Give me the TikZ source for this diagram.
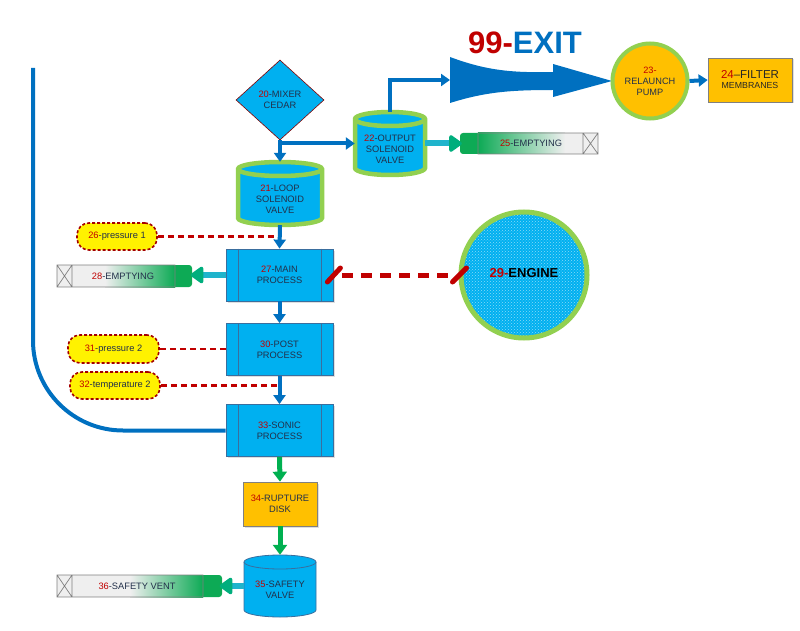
\documentclass[tikz,border=0pt]{standalone}
\usepackage{fontspec}
\setmainfont{Liberation Sans}
\usetikzlibrary{arrows.meta,shapes.geometric,patterns,shadows,calc}
\definecolor{cyanF}{HTML}{00B0F0}
\definecolor{blueA}{HTML}{0070C0}
\definecolor{lgreen}{HTML}{92D050}
\definecolor{gold}{HTML}{FFC000}
\definecolor{numred}{HTML}{C00000}
\definecolor{txt}{HTML}{22304A}
\definecolor{greenA}{HTML}{00B050}
\definecolor{tealL}{HTML}{1FB4CC}
\definecolor{tealH}{HTML}{00AE7D}
\definecolor{pgreen}{HTML}{0DAA55}
\definecolor{pgray}{HTML}{EFEFEF}
\definecolor{edgeG}{HTML}{808080}
\definecolor{procE}{HTML}{3A6E9E}
\definecolor{dkred}{HTML}{A50000}
\newcommand\rn[1]{\textcolor{numred}{#1}}
% cylinder: cx, top, bottom, half width, style
\newcommand\drawcyl[5]{%
  \path[#5] (#1-#4,#2+7) -- (#1-#4,#3-7)
    arc[start angle=180,end angle=360,x radius=#4pt,y radius=7pt]
    -- (#1+#4,#2+7)
    arc[start angle=0,end angle=180,x radius=#4pt,y radius=7pt] -- cycle;
  \path[#5,fill=none] (#1-#4,#2+7)
    arc[start angle=180,end angle=360,x radius=#4pt,y radius=7pt];}
\newcommand\proclines[1]{%
  \draw[procE,line width=0.8pt] ([xshift=13pt]#1.north west) -- ([xshift=13pt]#1.south west)
    ([xshift=-12pt]#1.north east) -- ([xshift=-12pt]#1.south east);}
\begin{document}
\begin{tikzpicture}[x=1pt,y=-1pt,
  font=\fontsize{9.3}{11}\selectfont, text=txt,
  lbl/.style={align=center,inner sep=0pt},
  proc/.style={draw=procE,line width=0.8pt,fill=cyanF,minimum width=107pt,minimum height=52pt,
    align=center,inner sep=0pt,drop shadow={opacity=0.25,shadow xshift=1.5pt,shadow yshift=-1.5pt}},
  goldbox/.style={draw=edgeG,line width=0.7pt,fill=gold,align=center,inner sep=0pt,
    drop shadow={opacity=0.25,shadow xshift=1.5pt,shadow yshift=-1.5pt}},
  sensor/.style={fill=yellow,draw=dkred,line width=1.6pt,dash pattern=on 3pt off 2pt,
    rounded corners=12pt,align=center,inner sep=0pt},
  pipebox/.style={inner sep=0pt,align=center},
  barrow/.style={draw=blueA,line width=4pt,-{Triangle[width=12pt,length=9pt]}},
  garrow/.style={draw=greenA,line width=5pt,-{Triangle[width=14pt,length=10pt]}},
  tarrow/.style={draw=tealL,line width=6pt,-{Triangle[width=19pt,length=14pt,round,color=tealH,fill=tealH]}},
  sdash/.style={draw=numred,line width=2.6pt,dash pattern=on 6pt off 4pt}]
\useasboundingbox (0,0) rectangle (800,631);

% ---- left return line
\coordinate (top) at (33,68);

% ---- title
\node[font=\bfseries\fontsize{31}{31}\selectfont] (t99) at (525,43)
  {\textcolor{numred}{99-}\textcolor{blueA}{EXIT}};

% ---- big exit arrow
\fill[blueA] (450,57) .. controls (485,70) and (510,73) .. (553,72) -- (553,64) -- (612,81)
  -- (553,97) -- (553,90) .. controls (510,90) and (485,92) .. (450,103) -- cycle;
\coordinate (exitL) at (450,80);

% ---- 20 diamond
\node[diamond,draw=dkred!80!black,line width=0.6pt,fill=cyanF,minimum width=88pt,minimum height=80pt,
  inner sep=0pt,align=center] (d20) at (280,100) {\rn{20}-MIXER\\CEDAR};

% ---- 21 cylinder
\drawcyl{280}{162}{225}{42}{fill=cyanF,draw=lgreen,line width=4.5pt}
\node[lbl,minimum width=84pt,minimum height=63pt] (c21) at (280,193.5) {};
\node[lbl] (t21) at (280,199) {\rn{21}-LOOP\\SOLENOID\\VALVE};

% ---- 22 cylinder
\drawcyl{390}{112}{175}{35}{fill=cyanF,draw=lgreen,line width=4.5pt}
\node[lbl,minimum width=70pt,minimum height=63pt] (c22) at (390,143.5) {};
\node[lbl] (t22) at (390,149) {\rn{22}-OUTPUT\\SOLENOID\\VALVE};

% ---- 23 circle
\node[circle,fill=gold,draw=lgreen,line width=4pt,minimum size=75pt,inner sep=0pt,align=center,
  font=\fontsize{9.2}{11}\selectfont] (c23) at (650,81) {\rn{23-}\\RELAUNCH\\PUMP};

% ---- 24 box
\node[goldbox,minimum width=84pt,minimum height=44pt,text=black!85] (b24) at (750,80)
  {{\fontsize{11.5}{13}\selectfont\rn{24}–FILTER}\\[-1pt]{\fontsize{8.8}{10}\selectfont MEMBRANES}};

% ---- 25 pipe (green left)
\fill[pgreen,rounded corners=3pt] (478,133) -- (460,133) -- (460,154) -- (478,154);
\shade[left color=pgreen,right color=pgray] (478,133) rectangle (565,154);
\fill[pgray] (565,133) rectangle (598,154);
\draw[edgeG,line width=0.7pt] (478,133) -- (598,133) -- (598,154) -- (478,154) -- cycle
  (583,133) -- (583,154) (583,133) -- (598,154) (583,154) -- (598,133);
\node[pipebox,minimum width=138pt,minimum height=21pt] (p25) at (531,143.5) {\rn{25}-EMPTYING};

% ---- 26 sensor
\node[sensor,minimum width=80pt,minimum height=27pt] (s26) at (117,236.5) {\rn{26}-pressure 1};

% ---- 27 main process
\node[proc] (p27) at (279.5,275) {\rn{27}-MAIN\\PROCESS};
\proclines{p27}

% ---- 28 pipe (green right)
\fill[pgray] (57,265) rectangle (105,287);
\shade[left color=pgray,right color=pgreen] (105,265) rectangle (175,287);
\fill[pgreen,rounded corners=3pt] (175,265) -- (192,265) -- (192,287) -- (175,287);
\draw[edgeG,line width=0.7pt] (57,265) rectangle (175,287)
  (72,265) -- (72,287) (57,265) -- (72,287) (57,287) -- (72,265);
\node[pipebox,minimum width=135pt,minimum height=22pt] (p28) at (123,276) {\rn{28}-EMPTYING};

% ---- 29 engine
\node[circle,preaction={fill=cyanF},pattern=crosshatch dots,pattern color=white!55!cyanF,
  draw=lgreen,line width=5pt,minimum size=126pt,inner sep=0pt] (e29) at (524,275) {};
\node[lbl,font=\bfseries\fontsize{13}{15}\selectfont,text=black] (t29) at (524,273) {\rn{29-}ENGINE};

% ---- 30 post process
\node[proc] (p30) at (279.5,349.5) {\rn{30}-POST\\PROCESS};
\proclines{p30}

% ---- 31, 32 sensors
\node[sensor,minimum width=91pt,minimum height=28pt] (s31) at (113.5,349) {\rn{31}-pressure 2};
\node[sensor,minimum width=90pt,minimum height=27pt] (s32) at (115,385.5) {\rn{32}-temperature 2};

% ---- 33 sonic process
\node[proc] (p33) at (279.5,430.5) {\rn{33}-SONIC\\PROCESS};
\proclines{p33}

% ---- 34 rupture disk
\node[goldbox,minimum width=74pt,minimum height=44pt] (b34) at (280,504) {\rn{34}-RUPTURE\\DISK};

% ---- 35 safety valve
\drawcyl{280}{555}{617}{36}{fill=cyanF,draw=procE,line width=0.8pt}
\node[lbl,minimum width=72pt,minimum height=62pt] (c35) at (280,586) {};
\node[lbl] (t35) at (280,590) {\rn{35}-SAFETY\\VALVE};

% ---- 36 pipe (green right)
\fill[pgray] (57,575) rectangle (130,597);
\shade[left color=pgray,right color=pgreen] (130,575) rectangle (203,597);
\fill[pgreen,rounded corners=3pt] (203,575) -- (222,575) -- (222,597) -- (203,597);
\draw[edgeG,line width=0.7pt] (57,575) rectangle (203,597)
  (72,575) -- (72,597) (57,575) -- (72,597) (57,597) -- (72,575);
\node[pipebox,minimum width=165pt,minimum height=22pt] (p36) at (137,586) {\rn{36}-SAFETY VENT};

% ================= connectors
\draw[blueA,line width=4pt,rounded corners=90pt] (top) -- (33,430.5) -- (p33.west);

\draw[barrow] (d20.south) -- (c21.north);
\coordinate (br) at (280,143.5);
\draw[barrow] ([xshift=-2pt]br) -- (br -| c22.west);
\draw[barrow] (c22.north) |- (exitL);
\draw[barrow] (c23.east) -- (b24.west);
\draw[tarrow] (c22.east) -- (c22.east -| p25.west);

\draw[sdash] (s26.east) -- (s26.east -| p27.north);
\draw[barrow] (c21.south) -- (p27.north);
\draw[tarrow] (p27.west) -- (p27.west -| p28.east);

\draw[numred,line width=5pt,dash pattern=on 11pt off 8pt,shorten <=9pt,shorten >=9pt] (p27.east) -- (e29.west);
\draw[numred,line width=5pt,line cap=round] ($(p27.east)+(-6,7)$) -- ($(p27.east)+(7,-7)$);
\draw[numred,line width=5pt,line cap=round] ($(e29.west)+(-6,7)$) -- ($(e29.west)+(8,-7)$);

\draw[barrow] (p27.south) -- (p30.north);
\draw[sdash] (s31.east) -- (s31.east -| p30.west);
\draw[sdash] (s32.east) -- (s32.east -| p30.south);
\draw[barrow] (p30.south) -- (p33.north);

\draw[garrow] (p33.south) -- (b34.north);
\draw[garrow] (b34.south) -- (c35.north);
\draw[tarrow] (c35.west) -- (c35.west -| p36.east);
\end{tikzpicture}
\end{document}
